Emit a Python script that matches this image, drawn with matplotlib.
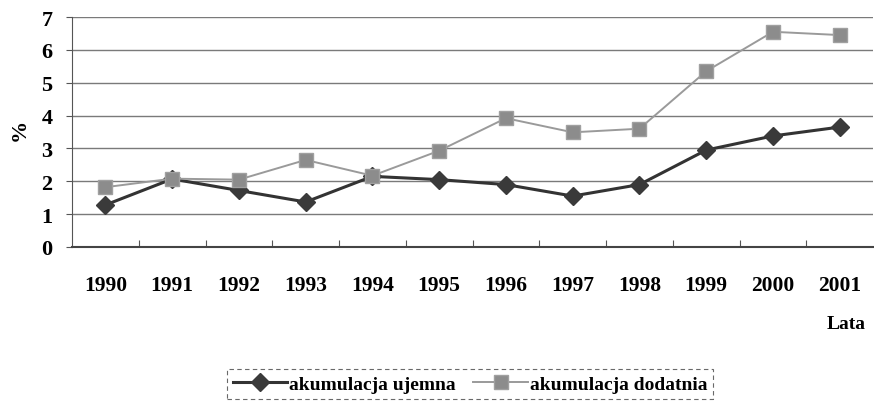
import matplotlib.pyplot as plt

# data
years = ['1990', '1991', '1992', '1993', '1994', '1995', '1996', '1997', '1998', '1999', '2000', '2001']
ujemna = [1.28, 2.07, 1.72, 1.37, 2.15, 2.05, 1.9, 1.55, 1.9, 2.95, 3.38, 3.65]
dodatnia = [1.82, 2.08, 2.05, 2.65, 2.17, 2.93, 3.92, 3.49, 3.6, 5.35, 6.55, 6.45]
yticks = [0, 1, 2, 3, 4, 5, 6, 7]

plt.rcParams['font.family'] = ['Liberation Serif', 'DejaVu Serif']

fig = plt.figure(figsize=(8.74, 4.06), dpi=100)
ax = fig.add_axes([72 / 874, 1 - 248 / 406, 1 - 72 / 874 - 0.001, (248 - 18) / 406])

x = list(range(len(years)))
ax.plot(x, ujemna, color='#333333', lw=2.2, marker='D', ms=9,
        mfc='#3a3a3a', mec='#3a3a3a', label='akumulacja ujemna', zorder=3)
ax.plot(x, dodatnia, color='#9a9a9a', lw=1.4, marker='s', ms=10,
        mfc='#8c8c8c', mec='#a0a0a0', label='akumulacja dodatnia', zorder=3)

ax.set_xlim(-0.5, len(years) - 0.5)
ax.set_ylim(0, 7)
ax.set_yticks(yticks)
ax.set_yticklabels([str(v) for v in yticks], fontsize=16, fontweight='bold')
ax.set_xticks([i + 0.5 for i in range(len(years) - 1)], minor=False)
ax.set_xticklabels([])
ax.set_xticks(x, minor=True)
ax.set_xticklabels(years, minor=True, fontsize=15.5, fontweight='bold')
ax.tick_params(axis='x', which='minor', length=0, pad=20)
ax.tick_params(axis='x', which='major', length=5, direction='in', color='#555555')
ax.tick_params(axis='y', length=4, direction='out', pad=10, color='#555555')

ax.grid(axis='y', color='#7a7a7a', lw=1.0)
ax.set_axisbelow(True)
for s in ['top', 'right']:
    ax.spines[s].set_visible(False)
ax.spines['left'].set_color('#555555')
ax.spines['bottom'].set_color('#444444')
ax.spines['bottom'].set_linewidth(1.5)

fig.text(20 / 874, 1 - 130 / 406, '%', rotation=90, fontsize=16, fontweight='bold',
         ha='center', va='center')
fig.text(846 / 874, 1 - 325 / 406, 'Lata', fontsize=14, fontweight='bold',
         ha='center', va='center')

leg = fig.legend(loc='center', bbox_to_anchor=(470 / 874, 1 - 385 / 406), ncol=2,
                 frameon=True, fancybox=False, handlelength=2.8,
                 handletextpad=0.1, columnspacing=0.9, borderpad=0.3,
                 prop={'weight': 'bold', 'size': 14})
leg.get_frame().set_linestyle((0, (4, 3)))
leg.get_frame().set_edgecolor('#444444')
leg.get_frame().set_linewidth(0.8)

fig.savefig('out.png', dpi=100)
